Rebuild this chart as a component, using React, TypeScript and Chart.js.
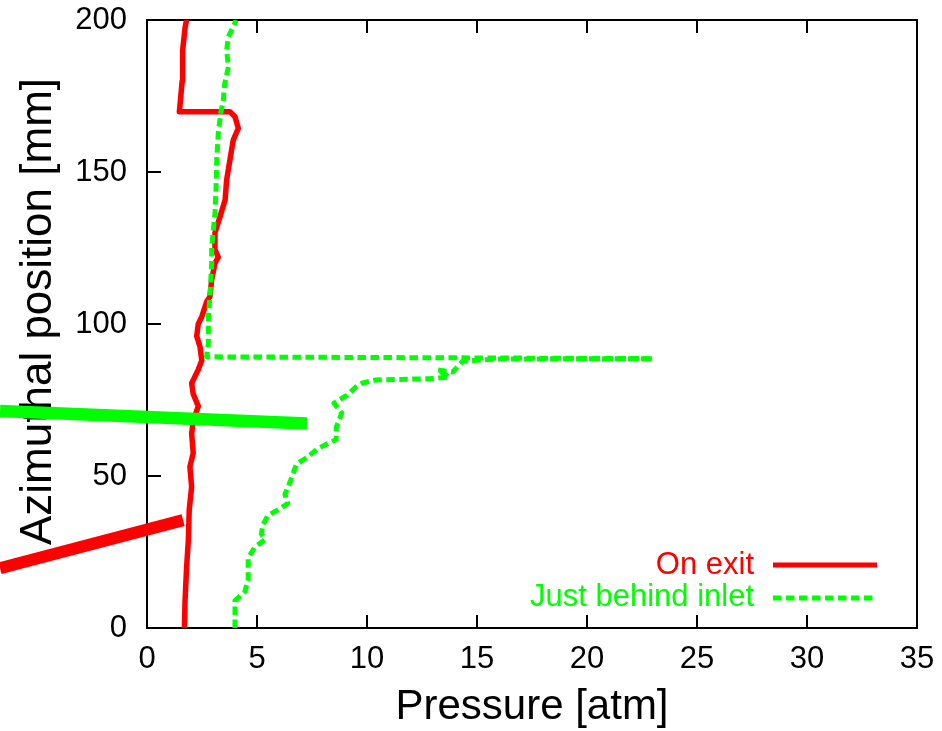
import { useEffect, useRef } from "react";
import { Chart, registerables } from "chart.js";

Chart.register(...registerables);

// ---- data ----
const seriesLabels = ["On exit", "Just behind inlet"];
const xTitle = "Pressure [atm]";
const yTitle = "Azimuthal position [mm]";
const xTickValues = [0, 5, 10, 15, 20, 25, 30, 35];
const yTickValues = [0, 50, 100, 150, 200];

const exitPressure = [
  1.7, 1.73, 1.8, 1.88, 1.92, 2.03, 1.95, 2.1, 2.03, 2.1, 2.33, 2.1, 2.03, 2.33, 2.49, 2.41,
  2.26, 2.33, 2.49, 2.71, 2.86, 2.94, 3.09, 3.24, 3.09, 3.09, 3.32, 3.55, 3.62, 3.77, 3.92,
  4.15, 4.0, 3.77, 1.47, 1.5, 1.6, 1.62, 1.73, 1.8,
];
const exitPosition = [
  0, 9, 20, 29, 39, 46.5, 53, 57.5, 64, 68, 73, 77, 80.5, 85, 88, 92.5,
  96, 100, 102.4, 107.3, 109, 114.5, 120, 122, 124.5, 130, 135.3, 140.8, 147.4, 154, 160.5,
  164.4, 168.2, 169.8, 169.8, 172, 180, 190, 197.5, 200,
];

const inletPressure = [
  4.0, 4.0, 4.45, 4.6, 4.6, 4.9, 5.36, 5.2, 5.27, 5.5, 6.1, 6.4, 6.27, 6.5, 6.8, 7.26, 7.76,
  8.6, 8.6, 8.85, 8.5, 9.1, 9.5, 9.8, 10.4, 12.85, 13.75, 13.2, 13.9, 14.35, 16.0, 23.0,
  2.71, 2.79, 2.79, 2.86, 2.94, 2.94, 3.09, 3.14, 3.17, 3.24, 3.35, 3.47, 3.53, 3.7, 3.62,
  3.7, 3.92, 4.05,
];
const inletPosition = [
  0, 9, 12, 16, 23, 26.6, 29, 31, 34, 37, 39.5, 41, 44, 48, 54, 56, 59,
  62, 66, 70.7, 74, 76.6, 79.3, 80.6, 81.6, 82, 82.6, 84.9, 84.2, 87.8, 88.5, 88.6,
  89.2, 93.7, 102.4, 109, 120, 125.4, 136.4, 145.2, 154, 162.8, 169.3, 173.7, 179, 184.6, 190,
  194.5, 197.8, 200,
];

// thick pointer strokes overlaid on the figure
const greenMarkX = [-6.68, 7.27];
const greenMarkY = [71.4, 67.3];
const redMarkX = [-6.68, 1.64];
const redMarkY = [19.7, 35.5];

const toPoints = (xs: number[], ys: number[]) => xs.map((x, i) => ({ x, y: ys[i] }));

const FONT = "'Liberation Sans', Arial, Helvetica, sans-serif";

const framePlugin = {
  id: "frame",
  beforeDatasetsDraw(chart: any) {
    const { ctx, chartArea: a, scales } = chart;
    const xs = scales.x;
    const ys = scales.y;
    ctx.save();
    ctx.strokeStyle = "#000";
    ctx.lineWidth = 2;
    ctx.strokeRect(a.left, a.top, a.right - a.left, a.bottom - a.top);
    ctx.beginPath();
    xs.ticks.forEach((t: any) => {
      const px = xs.getPixelForValue(t.value);
      ctx.moveTo(px, a.bottom);
      ctx.lineTo(px, a.bottom - 13);
      ctx.moveTo(px, a.top);
      ctx.lineTo(px, a.top + 13);
    });
    ys.ticks.forEach((t: any) => {
      const py = ys.getPixelForValue(t.value);
      ctx.moveTo(a.left, py);
      ctx.lineTo(a.left + 14, py);
    });
    ctx.stroke();
    // y axis title
    ctx.translate(39, (a.top + a.bottom) / 2 - 12.5);
    ctx.rotate(-Math.PI / 2);
    ctx.fillStyle = "#000";
    ctx.font = `44px ${FONT}`;
    ctx.textAlign = "center";
    ctx.textBaseline = "middle";
    ctx.fillText(yTitle, 0, 0);
    ctx.restore();
  },
};

const legendPlugin = {
  id: "keyBox",
  afterDatasetsDraw(chart: any) {
    const { ctx, chartArea: a } = chart;
    const rows = [a.bottom - 63, a.bottom - 31];
    ctx.save();
    ctx.font = `31px ${FONT}`;
    ctx.textAlign = "right";
    ctx.textBaseline = "middle";
    [0, 1].forEach((i) => {
      const ds = chart.data.datasets[i];
      const y = rows[i];
      ctx.fillStyle = ds.borderColor;
      ctx.fillText(ds.label, a.right - 163, y);
      ctx.beginPath();
      ctx.strokeStyle = ds.borderColor;
      ctx.lineWidth = 5;
      ctx.setLineDash(ds.borderDash || []);
      ctx.moveTo(a.right - 144, y + (i === 1 ? 1 : 0));
      ctx.lineTo(a.right - 40, y + (i === 1 ? 1 : 0));
      ctx.stroke();
    });
    ctx.restore();
  },
};

export default function App() {
  const canvasRef = useRef<HTMLCanvasElement | null>(null);

  useEffect(() => {
    if (!canvasRef.current) return;
    const chart = new Chart(canvasRef.current, {
      type: "scatter",
      data: {
        datasets: [
          {
            label: seriesLabels[0],
            data: toPoints(exitPressure, exitPosition),
            showLine: true,
            borderColor: "#ff0000",
            backgroundColor: "#ff0000",
            borderWidth: 5.5,
            borderJoinStyle: "round",
            pointRadius: 0,
            tension: 0,
            order: 1,
          },
          {
            label: seriesLabels[1],
            data: toPoints(inletPressure, inletPosition),
            showLine: true,
            borderColor: "#00ff00",
            backgroundColor: "#00ff00",
            borderWidth: 5,
            borderDash: [8.5, 4.5],
            borderJoinStyle: "round",
            pointRadius: 0,
            tension: 0,
            order: 0,
          },
          {
            label: "green pointer",
            data: toPoints(greenMarkX, greenMarkY),
            showLine: true,
            borderColor: "#00ff00",
            borderWidth: 12.5,
            borderCapStyle: "butt",
            pointRadius: 0,
            clip: false as any,
            order: -1,
          },
          {
            label: "red pointer",
            data: toPoints(redMarkX, redMarkY),
            showLine: true,
            borderColor: "#ff0000",
            borderWidth: 12,
            borderCapStyle: "butt",
            pointRadius: 0,
            clip: false as any,
            order: -1,
          },
        ],
      },
      options: {
        animation: false,
        responsive: false,
        devicePixelRatio: 1,
        layout: { padding: { top: 20, right: 25, left: 0, bottom: 0 } },
        plugins: {
          legend: { display: false },
          tooltip: { enabled: false },
        },
        scales: {
          x: {
            type: "linear",
            min: 0,
            max: 35,
            afterBuildTicks: (s: any) => {
              s.ticks = xTickValues.map((v) => ({ value: v }));
            },
            ticks: {
              color: "#000",
              font: { family: FONT, size: 31 },
              padding: 13,
            },
            grid: { display: false, drawTicks: false },
            border: { display: false },
            title: {
              display: true,
              text: xTitle,
              color: "#000",
              font: { family: FONT, size: 42, lineHeight: 1.1 },
              padding: 0,
            },
            afterFit: (s: any) => {
              s.height = 103;
              s.paddingLeft = 0;
              s.paddingRight = 0;
              s.paddingTop = 0;
              s.paddingBottom = 0;
            },
          },
          y: {
            type: "linear",
            min: 0,
            max: 200,
            afterBuildTicks: (s: any) => {
              s.ticks = yTickValues.map((v) => ({ value: v }));
            },
            ticks: {
              color: "#000",
              font: { family: FONT, size: 31 },
              padding: 20,
            },
            grid: { display: false, drawTicks: false },
            border: { display: false },
            title: { display: false, text: yTitle },
            afterFit: (s: any) => {
              s.width = 147;
              s.paddingLeft = 0;
              s.paddingRight = 0;
              s.paddingTop = 0;
              s.paddingBottom = 0;
            },
          },
        },
      },
      plugins: [framePlugin, legendPlugin],
    });
    return () => chart.destroy();
  }, []);

  return (
    <div style={{ position: "absolute", left: 0, top: 0, width: 942, height: 731, background: "#fff" }}>
      <canvas ref={canvasRef} width={942} height={731} style={{ display: "block" }} />
    </div>
  );
}
